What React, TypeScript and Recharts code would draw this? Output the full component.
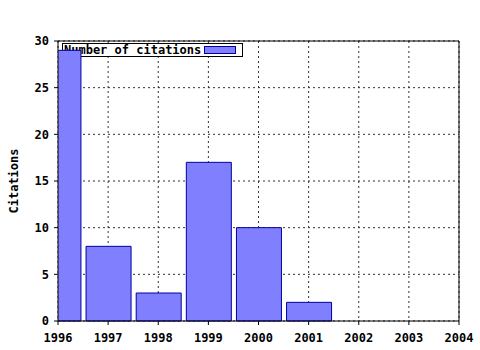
import { Bar, BarChart, CartesianGrid, ReferenceLine, XAxis, YAxis } from 'recharts';

const years = [1996, 1997, 1998, 1999, 2000, 2001];
const citations = [29, 8, 3, 17, 10, 2];
const yearTicks = [1996, 1997, 1998, 1999, 2000, 2001, 2002, 2003, 2004];
const citationTicks = [0, 5, 10, 15, 20, 25, 30];

const data = years.map((year, i) => ({ year, citations: citations[i] }));

const FONT = '"DejaVu Sans Mono", monospace';
const tickStyle = { fontSize: 12, fontFamily: FONT, fontWeight: 'bold', fill: '#000' };

// legend drawn inside the svg so the first bar paints over it, like the original
function LegendBox() {
  return (
    <g>
      <rect x={62.5} y={43.5} width={180} height={13} fill="#fff" stroke="#000" />
      <text x={64} y={54} fontSize={12} fontFamily={FONT} fontWeight="bold" fill="#000">
        Number of citations
      </text>
      <rect x={204.5} y={46.5} width={31} height={7} fill="#8080ff" stroke="#0000a0" />
    </g>
  );
}

export default function App() {
  return (
    <div style={{ position: 'absolute', left: 0, top: 0, width: 480, height: 350, background: '#fff' }}>
      <BarChart width={480} height={350} data={data} margin={{ top: 41, right: 21, bottom: 4, left: 18 }}>
        <CartesianGrid stroke="#333" strokeDasharray="2 3" verticalValues={yearTicks} horizontalValues={citationTicks} />
        <LegendBox />
        <XAxis
          dataKey="year"
          type="number"
          domain={[1996, 2004]}
          ticks={yearTicks}
          allowDataOverflow
          height={25}
          tick={tickStyle}
          tickSize={4}
          tickMargin={8}
          stroke="#000"
          interval={0}
        />
        <YAxis
          domain={[0, 30]}
          ticks={citationTicks}
          width={40}
          tick={tickStyle}
          tickSize={4}
          tickMargin={5}
          stroke="#000"
          interval={0}
          label={{
            value: 'Citations',
            angle: -90,
            position: 'insideLeft',
            offset: -4,
            style: { fontSize: 12, fontFamily: FONT, fontWeight: 'bold', fill: '#000', textAnchor: 'middle' },
          }}
        />
        <Bar dataKey="citations" barSize={45} fill="#8080ff" stroke="#0000a0" strokeWidth={1} isAnimationActive={false} />
        <ReferenceLine y={30} stroke="#000" />
        <ReferenceLine x={2004} stroke="#000" />
      </BarChart>
    </div>
  );
}
